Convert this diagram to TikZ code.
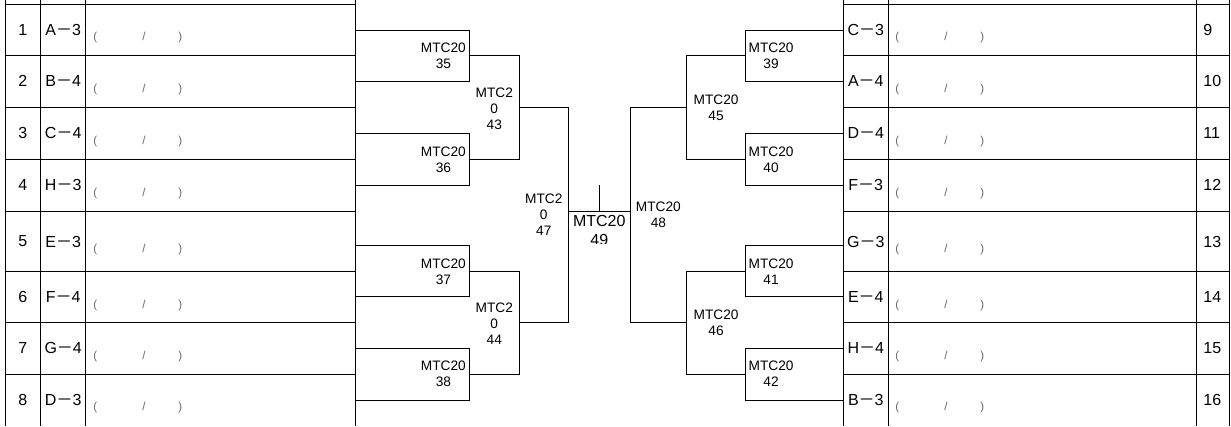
\documentclass[tikz,border=0pt]{standalone}
\usepackage{fontspec}
\setmainfont{Liberation Sans}
\newfontfamily\cjk{Noto Sans CJK JP}
\newcommand\fwm{{\cjk －}}
\usetikzlibrary{calc}
\tikzset{
  team/.style={font=\fontsize{16}{18}\selectfont, inner sep=0pt},
  seat/.style={font=\fontsize{16}{18}\selectfont, inner sep=0pt},
  memo/.style={font=\fontsize{11.5}{13}\selectfont, text=black!60, inner sep=0pt, anchor=west},
  match/.style={font=\fontsize{13.7}{16}\selectfont, align=center, inner sep=0pt},
}
\begin{document}
\begin{tikzpicture}[x=1pt, y=-1pt, line width=0.9pt]
\useasboundingbox (0,0) rectangle (1231,426);
% table lines
\foreach \y in {4,55.5,107.3,159.3,211.3,271.7,322.7,374} {
  \draw (5,\y) -- (355,\y);
  \draw (843.3,\y) -- (1229.5,\y);
}
\foreach \x in {5,40.7,85.7,355,843.3,888.3,1196.7,1229.5}
  \draw (\x,0) -- (\x,426);
% left entries
\foreach \i/\g/\n/\y in {1/A/3/29.75, 2/B/4/81.4, 3/C/4/133.3, 4/H/3/185.3,
                         5/E/3/241.5, 6/F/4/297.2, 7/G/4/348.3, 8/D/3/400} {
  \node[seat] (s\i) at (22.8,\y) {\i};
  \node[team] (t\i) at (63.2,\y) {\g\fwm\n};
  \node[memo] (memo\i) at (93,\y+8) {(\hspace{45pt}/\hspace{33pt})};
}
% right entries
\foreach \i/\g/\n/\y in {9/C/3/29.75, 10/A/4/81.4, 11/D/4/133.3, 12/F/3/185.3,
                         13/G/3/241.5, 14/E/4/297.2, 15/H/4/348.3, 16/B/3/400} {
  \node[seat, anchor=west] (s\i) at (1203,\y) {\i};
  \node[team] (t\i) at (865.8,\y) {\g\fwm\n};
  \node[memo] (memo\i) at (895,\y+8) {(\hspace{45pt}/\hspace{33pt})};
}
% bracket ends at the tables
\foreach \i/\y in {1/30.5, 2/81, 3/133.3, 4/185.3, 5/245, 6/296.7, 7/348.3, 8/400} {
  \coordinate (a\i) at (355,\y);
  \pgfmathtruncatemacro\j{\i+8}
  \coordinate (a\j) at (843.3,\y);
}
% match points
\coordinate (k35) at (469.3,55.5);  \coordinate (k36) at (469.3,159.3);
\coordinate (k37) at (469.3,271.7); \coordinate (k38) at (469.3,374);
\coordinate (k39) at (745.7,55.5);  \coordinate (k40) at (745.7,159.3);
\coordinate (k41) at (745.7,271.7); \coordinate (k42) at (745.7,374);
\coordinate (k43) at (519.3,107.3); \coordinate (k44) at (519.3,322.7);
\coordinate (k45) at (686.7,107.3); \coordinate (k46) at (686.7,322.7);
\coordinate (k47) at (568.3,211.3); \coordinate (k48) at (630.5,211.3);
\coordinate (k49) at (599.3,211.3); \coordinate (k49top) at (599.3,185);
% brackets
\foreach \m/\p/\q in {35/1/2, 36/3/4, 37/5/6, 38/7/8, 39/9/10, 40/11/12, 41/13/14, 42/15/16}
  \draw (a\p) -| (k\m) |- (a\q);
\foreach \m/\p/\q in {43/35/36, 44/37/38, 45/39/40, 46/41/42, 47/43/44, 48/45/46}
  \draw (k\p) -| (k\m) |- (k\q);
\draw (k47) -- (k48);
\draw (k49) -- (k49top);
% match labels
\foreach \m in {35,36,37,38}
  \node[match, anchor=east] (mtc\m) at ([xshift=-3pt]k\m) {MTC20\\\m};
\foreach \m in {39,40,41,42}
  \node[match, anchor=west] (mtc\m) at ([xshift=2.5pt]k\m) {MTC20\\\m};
\foreach \m in {43,44}
  \node[match] (mtc\m) at ([xshift=-25pt,yshift=-1pt]k\m) {MTC2\\0\\\m};
\foreach \m in {45,46}
  \node[match, anchor=west] (mtc\m) at ([xshift=6.5pt]k\m) {MTC20\\\m};
\node[match] (mtc47) at ([xshift=-24.5pt,yshift=-3pt]k47) {MTC2\\0\\47};
\node[match, anchor=west] (mtc48) at ([xshift=5pt,yshift=-3.5pt]k48) {MTC20\\48};
\begin{scope}
  \clip (568.3,211.3) rectangle (630.5,243);
  \node[match, font=\fontsize{16}{19}\selectfont, anchor=north] (mtc49) at ([yshift=-4pt]k49) {MTC20\\49};
\end{scope}
\end{tikzpicture}
\end{document}
